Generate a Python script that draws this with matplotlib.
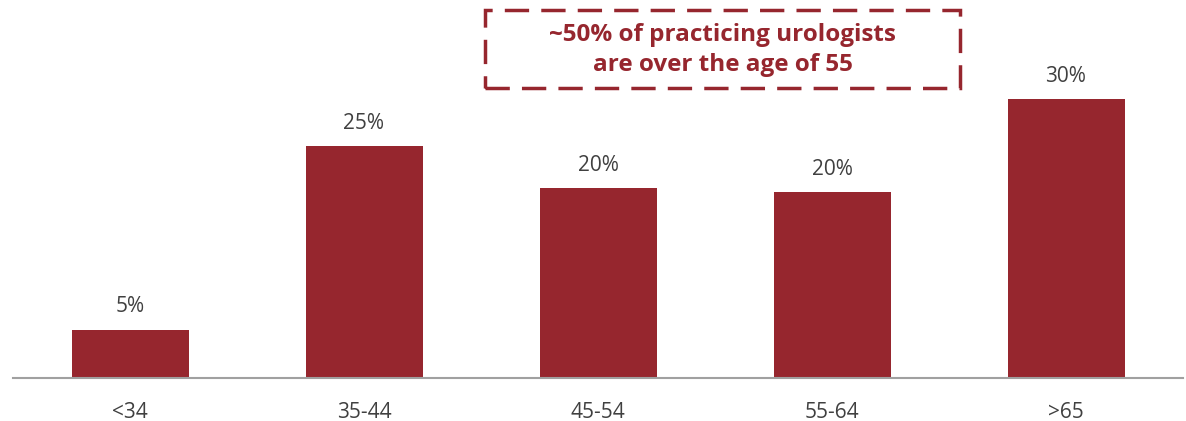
import matplotlib.pyplot as plt
from matplotlib.patches import Rectangle

# age groups of practicing urologists
age_groups = ['<34', '35-44', '45-54', '55-64', '>65']
share_pct = [5.2, 24.9, 20.4, 20.0, 30.0]
bar_labels = ['5%', '25%', '20%', '20%', '30%']
callout = '~50% of practicing urologists\nare over the age of 55'

BAR_COLOR = '#96262E'
TEXT_GRAY = '#404040'

fig = plt.figure(figsize=(11.86, 4.21), dpi=100)
ax = fig.add_axes([13 / 1186, 43 / 421, 1170 / 1186, 378 / 421])

x = range(len(age_groups))
ax.bar(x, share_pct, width=0.5, color=BAR_COLOR)
for xi, v, lab in zip(x, share_pct, bar_labels):
    ax.annotate(lab, (xi, v), xytext=(0, 9), textcoords='offset points',
                ha='center', va='bottom', fontsize=15, color=TEXT_GRAY,
                family='Open Sans')

ax.set_xlim(-0.5, len(age_groups) - 0.5)
ax.set_ylim(0, 40.65)
ax.set_xticks(list(x))
ax.set_xticklabels(age_groups, fontsize=15, color=TEXT_GRAY, family='Open Sans')
ax.tick_params(axis='x', length=0, pad=17.5)
ax.set_yticks([])
for s in ['top', 'right', 'left']:
    ax.spines[s].set_visible(False)
ax.spines['bottom'].set_color('#A0A0A0')
ax.spines['bottom'].set_linewidth(1.5)

# dashed callout box
box = Rectangle((0.403, 0.767), 0.406, 0.207, transform=ax.transAxes,
                fill=False, edgecolor=BAR_COLOR, linewidth=2.5,
                linestyle=(0, (7, 3.5)), clip_on=False)
ax.add_patch(box)
ax.text(0.6064, 0.868, callout, transform=ax.transAxes, ha='center',
        va='center', fontsize=17.5, fontweight='bold', color=BAR_COLOR,
        family='Open Sans', linespacing=1.35)

plt.savefig('out.png', dpi=100)
